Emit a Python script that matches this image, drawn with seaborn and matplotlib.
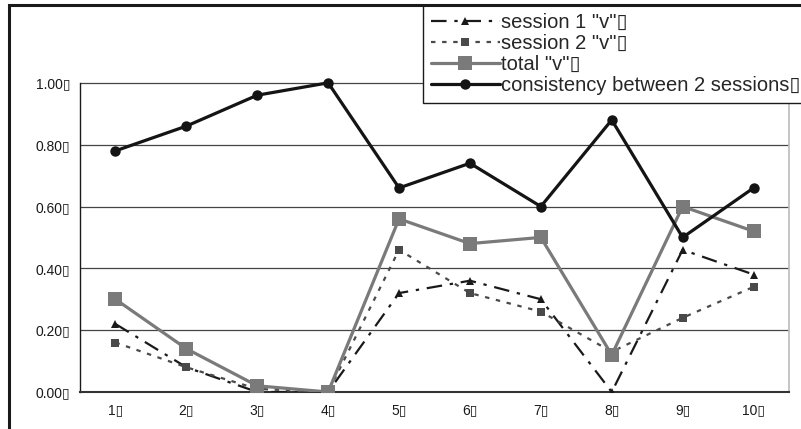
import matplotlib
matplotlib.use("Agg")
import matplotlib.pyplot as plt
import seaborn as sns
import numpy as np
from matplotlib.patches import Rectangle

# Data
categories = [1, 2, 3, 4, 5, 6, 7, 8, 9, 10]
cat_labels = ["1▯", "2▯", "3▯", "4▯", "5▯", "6▯", "7▯", "8▯", "9▯", "10▯"]
session1 = [0.22, 0.08, 0.00, 0.00, 0.32, 0.36, 0.30, 0.00, 0.46, 0.38]
session2 = [0.16, 0.08, 0.01, 0.00, 0.46, 0.32, 0.26, 0.13, 0.24, 0.34]
total = [0.30, 0.14, 0.02, 0.00, 0.56, 0.48, 0.50, 0.12, 0.60, 0.52]
consistency = [0.78, 0.86, 0.96, 1.00, 0.66, 0.74, 0.60, 0.88, 0.50, 0.66]
yticks = [0.0, 0.2, 0.4, 0.6, 0.8, 1.0]
ytick_labels = ["0.00▯", "0.20▯", "0.40▯", "0.60▯", "0.80▯", "1.00▯"]
series_labels = ['session 1 "v"▯', 'session 2 "v"▯', 'total "v"▯', 'consistency between 2 sessions▯']

sns.set_theme(style="white")
plt.rcParams['font.family'] = ['Liberation Sans', 'DejaVu Sans']

W, H = 801, 429
fig = plt.figure(figsize=(W / 100, H / 100), dpi=100)
ax = fig.add_axes([80 / W, 1 - 392 / H, (789 - 80) / W, (392 - 21) / H])

# gridlines
for yv in yticks[1:]:
    ax.axhline(yv, color="#444444", lw=0.9, zorder=0)

sns.lineplot(x=categories, y=session1, ax=ax, color="#1a1a1a", lw=1.6,
             linestyle=(0, (7, 3.5, 1.5, 3.5)), marker="^", markersize=5.5,
             markeredgewidth=0, label=series_labels[0], zorder=3)
sns.lineplot(x=categories, y=session2, ax=ax, color="#4a4a4a", lw=1.6,
             linestyle=(0, (2, 3)), marker="s", markersize=5.2,
             markeredgewidth=0, label=series_labels[1], zorder=3)
sns.lineplot(x=categories, y=total, ax=ax, color="#7a7a7a", lw=2.3,
             marker="s", markersize=9.5, markeredgewidth=0,
             label=series_labels[2], zorder=4)
sns.lineplot(x=categories, y=consistency, ax=ax, color="#141414", lw=2.3,
             marker="o", markersize=7.5, markeredgewidth=0,
             label=series_labels[3], zorder=5)

ax.set_xlim(0.5, 10.5)
ax.set_ylim(0, 1.2)
ax.set_yticks(yticks)
ax.set_yticklabels(ytick_labels)
ax.set_xticks(categories)
ax.set_xticklabels(cat_labels)
ax.set_xlabel("")
ax.set_ylabel("")

# tick styling: x tick marks between categories, labels centered
ax.tick_params(axis="x", which="major", length=0, labelsize=10, pad=8, colors="#1a1a1a")
ax.set_xticks(np.arange(1.5, 10.5, 1.0), minor=True)
ax.tick_params(axis="x", which="minor", length=5, width=1, color="#1a1a1a", direction="out")
ax.tick_params(axis="y", length=4, width=1, color="#1a1a1a", direction="out", labelsize=10, pad=3, colors="#1a1a1a")

ax.spines["top"].set_visible(False)
ax.spines["left"].set_bounds(0, 1.0)
ax.spines["left"].set_color("#1a1a1a")
ax.spines["left"].set_linewidth(1)
ax.spines["bottom"].set_color("#333333")
ax.spines["bottom"].set_linewidth(1.5)
ax.spines["right"].set_color("#bbbbbb")
ax.spines["right"].set_linewidth(1.2)
ax.spines["right"].set_bounds(0, 1.0)

leg = ax.legend(loc="upper left", bbox_to_anchor=(423 / W, 1 - 5 / H),
                bbox_transform=fig.transFigure, frameon=True, fancybox=False,
                framealpha=1, edgecolor="#1a1a1a", fontsize=14.5,
                handlelength=3.4, handletextpad=0.05, labelspacing=0.1,
                borderpad=0.4, borderaxespad=0)
leg.get_frame().set_linewidth(1.0)
leg.set_zorder(10)

# outer chart frame
fig.patches.append(Rectangle((9 / W, -0.1), 1.2, 1 - 5 / H + 0.1,
                             transform=fig.transFigure, fill=False,
                             edgecolor="#1a1a1a", lw=2.2, zorder=20))

fig.savefig("out.png", dpi=100)
